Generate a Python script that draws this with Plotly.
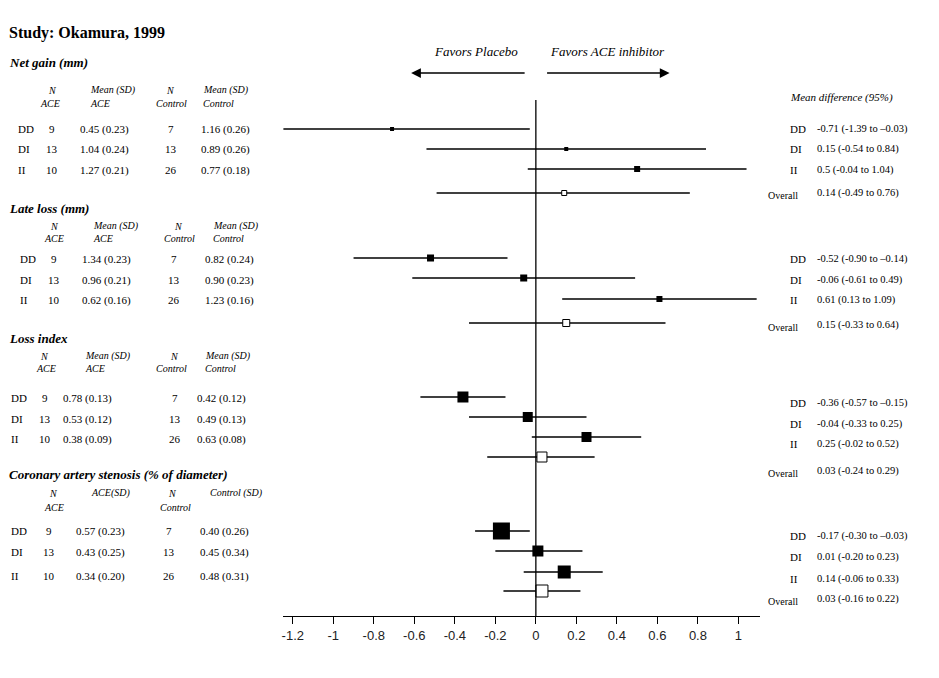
import plotly.graph_objects as go

W, H = 939, 678

# ---------------- data ----------------
genotypes = ["DD", "DI", "II"]
n_ace = [9, 13, 10]
n_ctrl = [7, 13, 26]

outcomes = ["Net gain (mm)", "Late loss (mm)", "Loss index",
            "Coronary artery stenosis (% of diameter)"]

net_ace_mean = [0.45, 1.04, 1.27]
net_ace_sd = [0.23, 0.24, 0.21]
net_ctrl_mean = [1.16, 0.89, 0.77]
net_ctrl_sd = [0.26, 0.26, 0.18]
net_md = [-0.71, 0.15, 0.5, 0.14]
net_lo = [-1.39, -0.54, -0.04, -0.49]
net_hi = [-0.03, 0.84, 1.04, 0.76]

late_ace_mean = [1.34, 0.96, 0.62]
late_ace_sd = [0.23, 0.21, 0.16]
late_ctrl_mean = [0.82, 0.90, 1.23]
late_ctrl_sd = [0.24, 0.23, 0.16]
late_md = [-0.52, -0.06, 0.61, 0.15]
late_lo = [-0.90, -0.61, 0.13, -0.33]
late_hi = [-0.14, 0.49, 1.09, 0.64]

li_ace_mean = [0.78, 0.53, 0.38]
li_ace_sd = [0.13, 0.12, 0.09]
li_ctrl_mean = [0.42, 0.49, 0.63]
li_ctrl_sd = [0.12, 0.13, 0.08]
li_md = [-0.36, -0.04, 0.25, 0.03]
li_lo = [-0.57, -0.33, -0.02, -0.24]
li_hi = [-0.15, 0.25, 0.52, 0.29]

cor_ace_mean = [0.57, 0.43, 0.34]
cor_ace_sd = [0.23, 0.25, 0.20]
cor_ctrl_mean = [0.40, 0.45, 0.48]
cor_ctrl_sd = [0.26, 0.34, 0.31]
cor_md = [-0.17, 0.01, 0.14, 0.03]
cor_lo = [-0.30, -0.20, -0.06, -0.16]
cor_hi = [-0.03, 0.23, 0.33, 0.22]

tick_vals = [-1.2, -1, -0.8, -0.6, -0.4, -0.2, 0, 0.2, 0.4, 0.6, 0.8, 1]
tick_text = ["-1.2", "-1", "-0.8", "-0.6", "-0.4", "-0.2", "0", "0.2", "0.4", "0.6", "0.8", "1"]

sections = [
    dict(name=outcomes[0], am=net_ace_mean, asd=net_ace_sd, cm=net_ctrl_mean, csd=net_ctrl_sd,
         md=net_md, lo=net_lo, hi=net_hi, hdr=("Mean (SD)", "ACE", "Mean (SD)", "Control")),
    dict(name=outcomes[1], am=late_ace_mean, asd=late_ace_sd, cm=late_ctrl_mean, csd=late_ctrl_sd,
         md=late_md, lo=late_lo, hi=late_hi, hdr=("Mean (SD)", "ACE", "Mean (SD)", "Control")),
    dict(name=outcomes[2], am=li_ace_mean, asd=li_ace_sd, cm=li_ctrl_mean, csd=li_ctrl_sd,
         md=li_md, lo=li_lo, hi=li_hi, hdr=("Mean (SD)", "ACE", "Mean (SD)", "Control")),
    dict(name=outcomes[3], am=cor_ace_mean, asd=cor_ace_sd, cm=cor_ctrl_mean, csd=cor_ctrl_sd,
         md=cor_md, lo=cor_lo, hi=cor_hi, hdr=("ACE(SD)", "", "Control (SD)", "")),
]

# ---------------- layout (pixel positions / styles) ----------------
X0_PX, X1_PX = 282, 760          # plot area in pixels
ZERO_PX, PX_PER_UNIT = 535, 203.0
AXIS_Y = 616
xr = [(X0_PX - ZERO_PX) / PX_PER_UNIT, (X1_PX - ZERO_PX) / PX_PER_UNIT]

lay = [
    dict(title_y=62, h1=90, h2=103, rows=[129, 149, 170], plot=[129, 149, 169, 193],
         right=[129, 149, 170, 193], cx=[15, 50, 77, 169, 198], hx=[51, 48, 87, 169, 170, 200],
         sizes=[4, 4, 6, 5]),
    dict(title_y=208, h1=226, h2=238, rows=[259, 280, 300], plot=[258, 278, 299, 323],
         right=[259, 280, 300, 325], cx=[17, 52, 79, 172, 202], hx=[53, 52, 90, 177, 178, 210],
         sizes=[7, 7, 6, 7]),
    dict(title_y=338, h1=356, h2=368, rows=[398, 419, 439], plot=[397, 417, 437, 457],
         right=[403, 424, 444, 471], cx=[8, 43, 60, 173, 194], hx=[43, 44, 82, 173, 170, 202],
         sizes=[11, 10, 10, 10]),
    dict(title_y=474, h1=493, h2=507, rows=[531, 552, 576], plot=[531, 551, 572, 591],
         right=[536, 557, 579, 599], cx=[8, 47, 73, 167, 197], hx=[52, 52, 88, 171, 174, 207],
         sizes=[17, 11, 13, 12]),
]

SERIF = "Liberation Serif"
SANS = "Liberation Sans"


def px(x):
    return x / W


annotations = []


def txt(x, y, s, size=11, anchor="left"):
    annotations.append(dict(x=px(x), y=y, xref="paper", yref="y", text=s, showarrow=False,
                            xanchor=anchor, yanchor="middle", borderpad=0,
                            font=dict(family=SERIF, size=size, color="black")))


def fmt_ci(v, upper=False):
    s = f"{v:.2f}"
    if upper and v < 0:
        s = "\u2013" + s[1:]
    return s


fig = go.Figure()

txt(6, 33, "<b>Study: Okamura, 1999</b>", size=16)
txt(789, 97, "<i>Mean difference (95%)</i>", size=11)
txt(432, 51, "<i>Favors Placebo</i>", size=13)
txt(548, 51, "<i>Favors ACE inhibitor</i>", size=13)

for sec, L in zip(sections, lay):
    txt(6, L["title_y"], f"<b><i>{sec['name']}</i></b>", size=13)
    hx = L["hx"]
    txt(hx[0], L["h1"], "<i>N</i>", size=10, anchor="center")
    txt(hx[1], L["h2"], "<i>ACE</i>", size=10, anchor="center")
    txt(hx[2], L["h1"], f"<i>{sec['hdr'][0]}</i>", size=10)
    if sec["hdr"][1]:
        txt(hx[2], L["h2"], f"<i>{sec['hdr'][1]}</i>", size=10)
    txt(hx[3], L["h1"], "<i>N</i>", size=10, anchor="center")
    txt(hx[4], L["h2"], "<i>Control</i>", size=10, anchor="center")
    txt(hx[5], L["h1"], f"<i>{sec['hdr'][2]}</i>", size=10)
    if sec["hdr"][3]:
        txt(hx[5], L["h2"], f"<i>{sec['hdr'][3]}</i>", size=10)

    cx = L["cx"]
    for i, g in enumerate(genotypes):
        y = L["rows"][i]
        txt(cx[0], y, g)
        txt(cx[1], y, str(n_ace[i]), anchor="center")
        txt(cx[2], y, f"{sec['am'][i]:.2f} ({sec['asd'][i]:.2f})")
        txt(cx[3], y, str(n_ctrl[i]), anchor="center")
        txt(cx[4], y, f"{sec['cm'][i]:.2f} ({sec['csd'][i]:.2f})")

    labels = genotypes + ["Overall"]
    for i, lab in enumerate(labels):
        y = L["right"][i]
        if lab == "Overall":
            txt(767, y + 2, lab, size=10)
        else:
            txt(789, y, lab)
        est = sec["md"][i]
        txt(816, y, f"{est:g} ({fmt_ci(sec['lo'][i])} to {fmt_ci(sec['hi'][i], True)})", size=10.5)

    md, lo, hi = sec["md"], sec["lo"], sec["hi"]
    # genotype rows
    fig.add_trace(go.Scatter(
        x=md[:3], y=L["plot"][:3], mode="markers",
        marker=dict(symbol="square", size=L["sizes"][:3], color="black", opacity=1,
                    line=dict(width=0)),
        error_x=dict(type="data", symmetric=False,
                     array=[h - m for h, m in zip(hi[:3], md[:3])],
                     arrayminus=[m - l for m, l in zip(md[:3], lo[:3])],
                     width=0, thickness=1.3, color="black"),
        showlegend=False, hoverinfo="skip"))
    # overall
    fig.add_trace(go.Scatter(
        x=[md[3]], y=[L["plot"][3]], mode="markers",
        marker=dict(symbol="square", size=L["sizes"][3], color="white", opacity=1,
                    line=dict(width=1, color="black")),
        error_x=dict(type="data", symmetric=False, array=[hi[3] - md[3]],
                     arrayminus=[md[3] - lo[3]], width=0, thickness=1.3, color="black"),
        showlegend=False, hoverinfo="skip"))

# direction arrows
for tip, tail in [(410, 525), (669, 545)]:
    annotations.append(dict(x=px(tip), y=73, xref="paper", yref="y", ax=tail - tip, ay=0,
                            text="", showarrow=True, arrowhead=2, arrowsize=1.5,
                            arrowwidth=1.3, arrowcolor="black"))

shapes = [dict(type="line", xref="x", yref="y", x0=0, x1=0, y0=100, y1=AXIS_Y,
               line=dict(color="black", width=1.3))]

fig.update_layout(
    width=W, height=H, margin=dict(l=0, r=0, t=0, b=0),
    paper_bgcolor="white", plot_bgcolor="white",
    annotations=annotations, shapes=shapes,
    xaxis=dict(domain=[px(X0_PX), px(X1_PX)], range=xr, tickvals=tick_vals, ticktext=tick_text,
               ticks="outside", ticklen=7, tickwidth=1, tickcolor="black",
               showline=True, linecolor="black", linewidth=1.3, showgrid=False, zeroline=False,
               tickfont=dict(family=SANS, size=13, color="#222"), fixedrange=True),
    yaxis=dict(domain=[(H - AXIS_Y) / H, 1], range=[AXIS_Y, 0], visible=False,
               showgrid=False, zeroline=False, fixedrange=True),
)

fig.write_html("out.html", config={"displayModeBar": False},
               post_script="document.body.style.margin='0px';document.body.style.overflow='hidden';")
